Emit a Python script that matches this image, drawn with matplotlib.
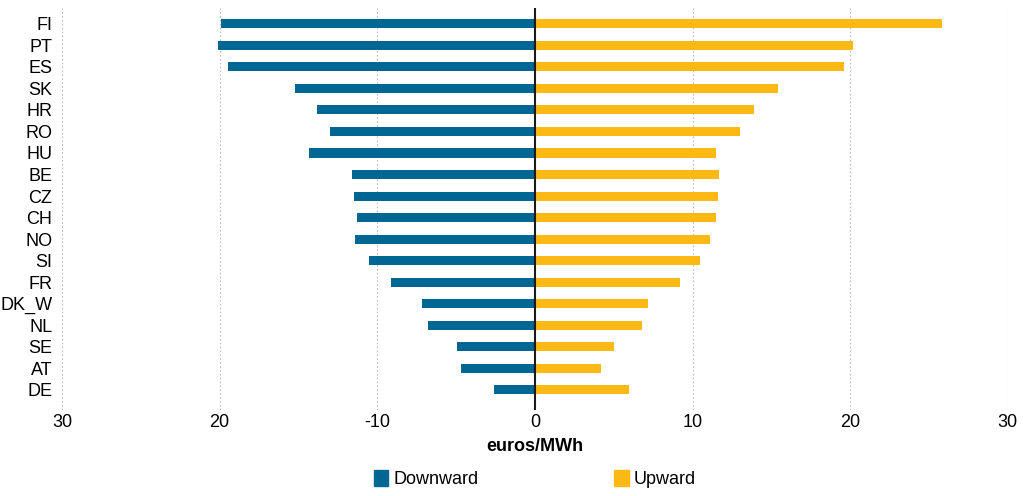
import numpy as np
import matplotlib.pyplot as plt
from matplotlib import font_manager
from matplotlib.patches import Patch

countries = ['FI', 'PT', 'ES', 'SK', 'HR', 'RO', 'HU', 'BE', 'CZ',
             'CH', 'NO', 'SI', 'FR', 'DK_W', 'NL', 'SE', 'AT', 'DE']
downward = [-19.9, -20.1, -19.5, -15.2, -13.8, -13.0, -14.3, -11.6, -11.5,
            -11.3, -11.4, -10.5, -9.1, -7.15, -6.8, -4.95, -4.7, -2.6]
upward = [25.8, 20.2, 19.6, 15.4, 13.9, 13.0, 11.5, 11.7, 11.6,
          11.5, 11.1, 10.5, 9.2, 7.2, 6.8, 5.05, 4.2, 6.0]
xticks = [-30, -20, -10, 0, 10, 20, 30]
xtick_labels = ['30', '20', '-10', '0', '10', '20', '30']

blue = '#006692'
yellow = '#FDB913'

names = {f.name for f in font_manager.fontManager.ttflist}
if 'Liberation Sans Narrow' in names:
    plt.rcParams['font.family'] = ['Liberation Sans Narrow', 'DejaVu Sans']
else:
    plt.rcParams['font.family'] = ['Liberation Sans', 'DejaVu Sans']

fig = plt.figure(figsize=(10.23, 4.96), dpi=100)
ax = fig.add_axes([0.0606, 0.173, 0.9245, 0.811])

y = np.arange(len(countries))
ax.barh(y, downward, height=0.42, color=blue, zorder=2)
ax.barh(y, upward, height=0.42, color=yellow, zorder=2)
ax.axvline(0, color='#1a1a1a', lw=1.5, zorder=3)

for v in [-30, -20, -10, 10, 20, 30]:
    ax.axvline(v, color='#bbbbbb', lw=0.8, ls=(0, (1.5, 2)), zorder=1)

ax.set_xlim(-30, 30)
ax.set_ylim(17.95, -0.74)
ax.set_yticks(y)
ax.set_yticklabels(countries, fontsize=13)
ax.set_xticks(xticks)
ax.set_xticklabels(xtick_labels, fontsize=13)
ax.tick_params(axis='y', length=0, pad=7)
ax.tick_params(axis='x', length=0, pad=3)
for s in ax.spines.values():
    s.set_visible(False)

ax.set_xlabel('euros/MWh', fontsize=13, fontweight='bold', labelpad=5)

handles = [Patch(color=blue, label='Downward'), Patch(color=yellow, label='Upward')]
fig.legend(handles=handles, loc='center', bbox_to_anchor=(0.523, 0.035), ncol=2,
           frameon=False, fontsize=13, handlelength=0.8, handleheight=1.0,
           handletextpad=0.3, columnspacing=7.5)

fig.savefig('out.png', dpi=100)
